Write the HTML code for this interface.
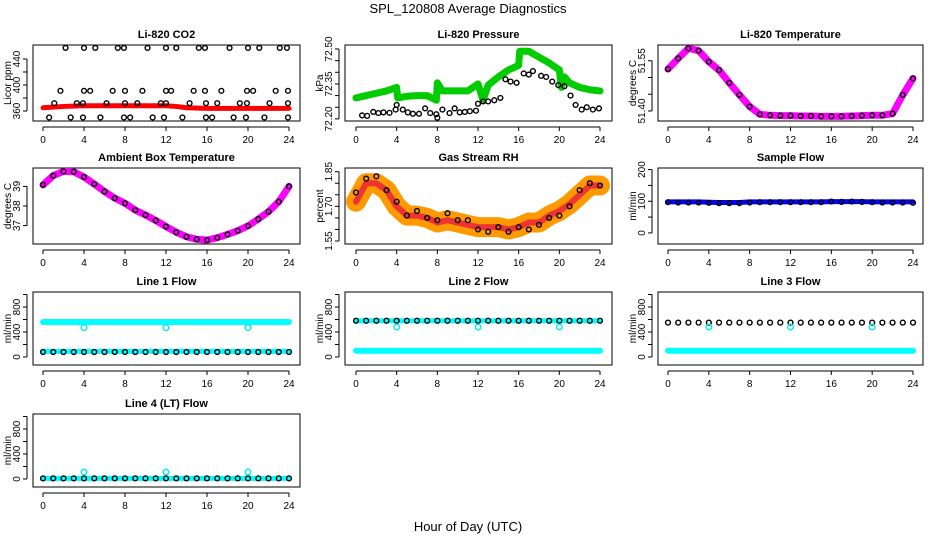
<!DOCTYPE html>
<html><head><meta charset="utf-8">
<style>
body{margin:0;background:#fff;}
svg{display:block;font-family:"Liberation Sans",sans-serif;}
</style></head>
<body>
<svg id="chart" width="936" height="540" viewBox="0 0 936 540">
<text x="468" y="13" text-anchor="middle" font-size="13">SPL_120808  Average Diagnostics</text>
<text x="468" y="531" text-anchor="middle" font-size="13">Hour of Day (UTC)</text>
</svg>
<script>
// ---- data ----
const xTicks = [0,4,8,12,16,20,24];
const hours = [0,1,2,3,4,5,6,7,8,9,10,11,12,13,14,15,16,17,18,19,20,21,22,23,24];

const co2Hours = [2.2,4,5.1,7.3,7.9,10.2,12,13,15.2,15.8,18.2,20,21.1,23.1,23.8, 1.7,4,4.6,6.8,8,9.7,12,12.5,14.7,15.8,17.4,19.9,20.5,22.7,23.9, 1.1,3.3,3.9,6.2,8,9.2,11.5,12,14.3,15.9,17,19.2,19.9,22.1,23.9, 0.6,2.7,3.9,5.6,7.9,8.5,10.7,11.8,13.6,15.9,16.5,18.6,19.8,21.6,23.9];
const co2Values = [457,457,457,457,457,457,457,457,457,457,457,457,457,457,457, 391,391,391,391,391,391,391,391,391,391,391,391,391,391,391, 372,372,372,372,372,372,372,372,372,372,372,372,372,372,372, 350,350,350,350,350,350,350,350,350,350,350,350,350,350,350];
const co2RedHours = [0,2,4,6,8,10,12,13,14,16,18,20,22,24];
const co2RedValues = [365,367,368,368,368,368,368,367,365,364,364,364,364,364];

const presGreenHours = [0,1,2,3,4,4.1,5,6,7,7.9,8,8.5,9,10,11,11.5,12,12.5,13,14,15,16,16.1,17,18,19,20,20.2,20.5,21,22,23,24];
const presGreenValues = [72.29,72.30,72.31,72.32,72.335,72.29,72.297,72.30,72.30,72.28,72.355,72.32,72.32,72.32,72.32,72.335,72.35,72.28,72.345,72.38,72.41,72.43,72.49,72.49,72.465,72.44,72.41,72.335,72.38,72.355,72.335,72.325,72.32];
const presBlackHours = [0.6,1.1,1.7,2.2,2.7,3.3,3.9,4,4.6,5.1,5.6,6.2,6.8,7.3,7.9,8,8.5,9.2,9.7,10.2,10.7,11.2,11.8,12,12.5,13,13.6,14.2,14.7,15.2,15.8,16.5,17,17.4,18.2,18.7,19.3,19.9,20.5,21.1,21.6,22.2,22.7,23.3,23.9];
const presBlackValues = [72.215,72.213,72.23,72.225,72.228,72.226,72.24,72.26,72.24,72.228,72.222,72.222,72.245,72.225,72.22,72.205,72.24,72.225,72.245,72.228,72.23,72.233,72.235,72.265,72.275,72.275,72.28,72.29,72.37,72.36,72.355,72.395,72.39,72.405,72.385,72.38,72.36,72.345,72.34,72.30,72.26,72.24,72.25,72.24,72.245];

const liTempValues = [51.525,51.557,51.587,51.58,51.547,51.522,51.484,51.448,51.413,51.39,51.387,51.386,51.386,51.385,51.385,51.384,51.384,51.384,51.385,51.386,51.387,51.387,51.392,51.448,51.497];
const ambTempValues = [39.08,39.55,39.77,39.75,39.48,39.12,38.74,38.40,38.14,37.79,37.54,37.26,36.95,36.66,36.43,36.30,36.26,36.38,36.55,36.74,36.98,37.33,37.71,38.22,39.0];
const rhValues = [1.72,1.80,1.80,1.77,1.70,1.66,1.66,1.65,1.63,1.64,1.63,1.62,1.61,1.61,1.61,1.60,1.61,1.63,1.63,1.66,1.68,1.71,1.75,1.79,1.79];
const rhBlackValues = [1.76,1.82,1.83,1.77,1.72,1.66,1.68,1.65,1.64,1.67,1.64,1.64,1.60,1.59,1.61,1.59,1.61,1.60,1.62,1.65,1.66,1.70,1.77,1.80,1.79];
const sampleBlue = [98,98,98,98,97,96,96,96,98,98,98,98,98,98,98,98,99,99,99,99,98,98,98,98,98];
const sampleBlack = [97,96,96,96,95,94,94,94,96,97,97,97,97,97,97,97,99,98,99,98,97,96,96,96,95];

const l1Cyan = [560,560,560,560,560,560,560,560,560,560,560,560,560,560,560,560,560,560,560,560,560,560,560,560,560];
const l1CyanLow = [90,90,90,90,90,90,90,90,90,90,90,90,90,90,90,90,90,90,90,90,90,90,90,90,90];
const l1Black = [80,80,80,80,80,80,80,80,80,80,80,80,80,80,80,80,80,80,80,80,80,80,80,80,80];
const l2Black = [580,580,580,580,580,580,580,580,580,580,580,580,580,580,580,580,580,580,580,580,580,580,580,580,580];
const l2Cyan = [100,100,100,100,100,100,100,100,100,100,100,100,100,100,100,100,100,100,100,100,100,100,100,100,100];
const l3Black = [550,550,550,550,550,550,550,550,550,550,550,550,550,550,550,550,550,550,550,550,550,550,550,550,550];
const l3Cyan = [100,100,100,100,100,100,100,100,100,100,100,100,100,100,100,100,100,100,100,100,100,100,100,100,100];
const l4Black = [10,10,10,10,10,10,10,10,10,10,10,10,10,10,10,10,10,10,10,10,10,10,10,10,10];
const outlierHours = [4,12,20];
const l1Outliers = [470,470,470];
const l2Outliers = [480,480,480];
const l3Outliers = [480,480,480];
const l4Outliers = [110,110,110];

// ---- layout ----
const svg = document.getElementById('chart');
const NS = 'http://www.w3.org/2000/svg';
const colBox = [[33,300,43,289],[345,612,356,600],[658,923,668,913]];
const rowBox = [[45,121],[168,244],[292,365],[414,487]];
function mk(tag, attrs, parent){const e=document.createElementNS(NS,tag);for(const k in attrs)e.setAttribute(k,attrs[k]);(parent||svg).appendChild(e);return e;}

function panel(col,row,title,ylab,ymin,ymax,ticks,labels,name){
  const [bl,br,x0,x24]=colBox[col];const [bt,bb]=rowBox[row];
  const g=mk('g',{});
  
  
  const xs=h=>x0+(x24-x0)*h/24;
  const ys=v=>bb-(v-ymin)/(ymax-ymin)*(bb-bt);
  const r=mk('rect',{x:bl,y:bt,width:br-bl,height:bb-bt,fill:'none',stroke:'#000','stroke-width':1},g);
  
  
  const t=mk('text',{x:(bl+br)/2,y:bt-7,'text-anchor':'middle','font-size':11,'font-weight':'bold'},g);t.textContent=title;
  
  
  mk('line',{x1:x0,x2:x24,y1:bb+6,y2:bb+6,stroke:'#000'},g);
  xTicks.forEach(h=>{mk('line',{x1:xs(h),x2:xs(h),y1:bb+6,y2:bb+10,stroke:'#000'},g);
    const tl=mk('text',{x:xs(h),y:bb+22,'text-anchor':'middle','font-size':10},g);tl.textContent=h;
    
    });
  const ax=bl-6;
  mk('line',{x1:ax,x2:ax,y1:ys(ticks[0]),y2:ys(ticks[ticks.length-1]),stroke:'#000'},g);
  ticks.forEach(v=>mk('line',{x1:ax-4,x2:ax,y1:ys(v),y2:ys(v),stroke:'#000'},g));
  labels.forEach(v=>{const tl=mk('text',{x:0,y:0,'text-anchor':'middle','font-size':10,transform:`translate(${ax-7},${ys(v)}) rotate(-90)`},g);
    tl.textContent=(typeof v==='number'&&ymax-ymin<2)?v.toFixed(2):v;
    
    });
  const yl=mk('text',{x:0,y:0,'text-anchor':'middle','font-size':10,transform:`translate(${bl-22},${(bt+bb)/2}) rotate(-90)`},g);yl.textContent=ylab;
  
  
  return {g,xs,ys};
}
function band(p,hs,vs,color,w,name){
  const pts=hs.map((h,i)=>p.xs(h)+','+p.ys(vs[i])).join(' ');
  const l=mk('polyline',{points:pts,fill:'none',stroke:color,'stroke-width':w,'stroke-linejoin':'round','stroke-linecap':'round'},p.g);
  
  
}
function pts(p,hs,vs,color,name,r){
  hs.forEach((h,i)=>{const c=mk('circle',{cx:p.xs(h),cy:p.ys(vs[i]),r:r||2.4,fill:'none',stroke:color,'stroke-width':1.4},p.g);
    
    });
}
const halfHours = hours.map(h=>h);

// CO2
let p=panel(0,0,'Li-820 CO2','Licor ppm',344.6,461.5,[360,380,400,420,440],[360,400,440],'co2');
band(p,co2RedHours,co2RedValues,'#f00',5,'co2-red-series');
pts(p,co2Hours,co2Values,'#000','co2-point');
// Pressure
p=panel(1,0,'Li-820 Pressure','kPa',72.191,72.517,[72.20,72.25,72.30,72.35,72.40,72.45,72.50],[72.20,72.35,72.50],'pressure');
band(p,presGreenHours,presGreenValues,'#0c0',7,'pressure-green-series');
pts(p,presBlackHours,presBlackValues,'#000','pressure-point');
// Li temp
p=panel(2,0,'Li-820 Temperature','degrees C',51.37,51.597,[51.40,51.45,51.50,51.55],[51.40,51.55],'li-temp');
band(p,hours,liTempValues,'#f0f',7,'li-temp-magenta-series');
pts(p,hours,liTempValues,'#000','li-temp-point');
// Ambient
p=panel(0,1,'Ambient Box Temperature','degrees C',36.06,39.94,[37,38,39],[37,38,39],'ambient');
band(p,hours,ambTempValues,'#f0f',7,'ambient-magenta-series');
pts(p,hours,ambTempValues,'#000','ambient-point');
// RH
p=panel(1,1,'Gas Stream RH','percent',1.537,1.866,[1.55,1.60,1.65,1.70,1.75,1.80,1.85],[1.55,1.70,1.85],'rh');
band(p,hours,rhValues,'#f90',20,'rh-orange-series');
band(p,hours,rhValues,'#e33',6,'rh-red-series');
pts(p,hours,rhBlackValues,'#000','rh-point');
// Sample flow
p=panel(2,1,'Sample Flow','ml/min',-35,205,[0,50,100,150,200],[0,100,200],'sample-flow');
band(p,hours,sampleBlue,'#00f',5,'sample-flow-blue-series');
pts(p,hours,sampleBlack,'#000','sample-flow-point');
// Line flows
const fT=[0,200,400,600,800,1000],fL=[0,400,800];
p=panel(0,2,'Line 1 Flow','ml/min',-128,1040,fT,fL,'line1');
band(p,hours,l1Cyan,'#0ff',6,'line1-cyan-series');
band(p,hours,l1CyanLow,'#0ff',5,'line1-cyan-low-series');
pts(p,hours,l1Black,'#000','line1-point');
pts(p,outlierHours,l1Outliers,'#0ee','line1-outlier',2.8);
p=panel(1,2,'Line 2 Flow','ml/min',-128,1040,fT,fL,'line2');
band(p,hours,l2Cyan,'#0ff',6,'line2-cyan-series');
band(p,hours,l2Black,'#0ff',5,'line2-cyan-high-series');
pts(p,hours,l2Black,'#000','line2-point');
pts(p,outlierHours,l2Outliers,'#0ee','line2-outlier',2.8);
p=panel(2,2,'Line 3 Flow','ml/min',-128,1040,fT,fL,'line3');
band(p,hours,l3Cyan,'#0ff',6,'line3-cyan-series');
pts(p,hours,l3Black,'#000','line3-point');
pts(p,outlierHours,l3Outliers,'#0ee','line3-outlier',2.8);
p=panel(0,3,'Line 4 (LT) Flow','ml/min',-128,1040,fT,fL,'line4');
band(p,hours,l4Black,'#0ff',5,'line4-cyan-series');
pts(p,hours,l4Black,'#000','line4-point');
pts(p,outlierHours,l4Outliers,'#0ee','line4-outlier',2.8);
</script>
</body></html>
